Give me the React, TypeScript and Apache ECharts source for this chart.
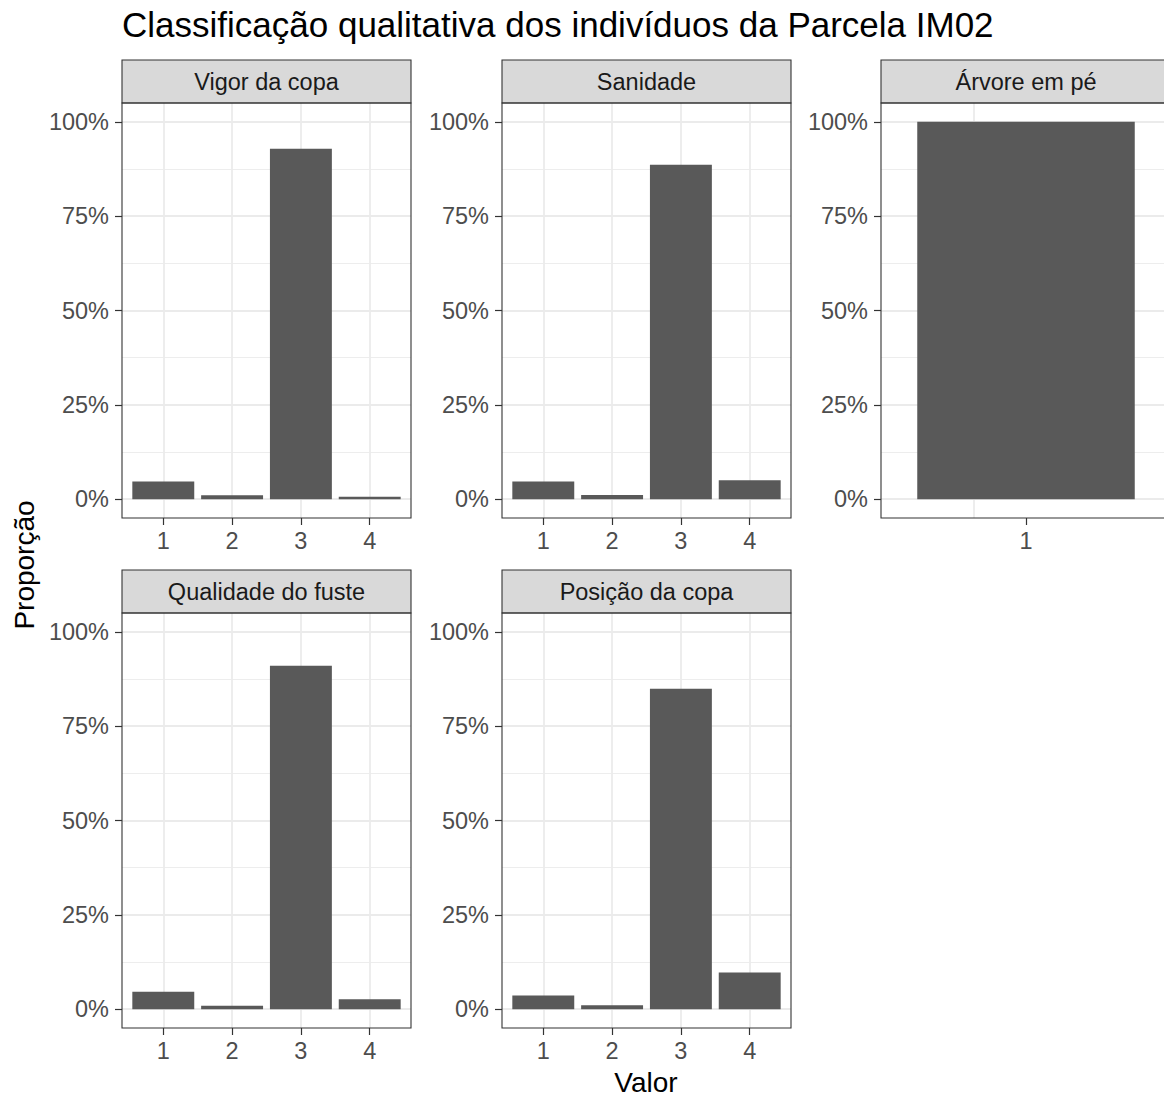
import React, { useEffect, useRef } from "react";
import * as echarts from "echarts";

// ---- Data ----
const chartTitle = "Classificação qualitativa dos indivíduos da Parcela IM02";
const xTitle = "Valor";
const yTitle = "Proporção";
const panelTitles = ["Vigor da copa", "Sanidade", "Árvore em pé", "Qualidade do fuste", "Posição da copa"];
const catsFour = ["1", "2", "3", "4"];
const catsOne = ["1"];
const panelCategories = [catsFour, catsFour, catsOne, catsFour, catsFour];
const vigorDaCopa = [4.7, 1.0, 92.9, 0.6];
const sanidade = [4.7, 1.1, 88.6, 5.0];
const arvoreEmPe = [100];
const qualidadeDoFuste = [4.6, 0.9, 91.0, 2.6];
const posicaoDaCopa = [3.6, 1.0, 84.9, 9.7];
const panelValues = [vigorDaCopa, sanidade, arvoreEmPe, qualidadeDoFuste, posicaoDaCopa];
const yMin = 0;
const yMax = 100;
const yStep = 25;
const yExpand = 5;

// ---- Layout ----
const FONT = '"Liberation Sans", Arial, sans-serif';
const panelLayout = [
  { left: 122, top: 103, width: 289 },
  { left: 502, top: 103, width: 289 },
  { left: 881, top: 103, width: 290 },
  { left: 122, top: 613, width: 289 },
  { left: 502, top: 613, width: 289 },
];
const PANEL_H = 415;
const STRIP_H = 43;
const TICK_FS = 23.5;
const GRID_COLOR = "#EBEBEB";
const DARK = "#333333";

export default function App() {
  const ref = useRef<HTMLDivElement>(null);
  useEffect(() => {
    if (!ref.current) return;
    const chart = echarts.init(ref.current, null, { renderer: "svg" });
    const grids: any[] = [];
    const xAxes: any[] = [];
    const yAxes: any[] = [];
    const series: any[] = [];
    const graphics: any[] = [];
    const span = yMax - yMin + 2 * yExpand;

    panelTitles.forEach((title, i) => {
      const { left, top, width } = panelLayout[i];
      const cats = panelCategories[i];
      const n = cats.length;
      const unit = width / (n + 0.2);

      // Grid A: bars + x ticks/labels
      const gA = grids.length;
      grids.push({ left: left + 0.1 * unit, top, width: n * unit, height: PANEL_H, show: false });
      xAxes.push({
        type: "category",
        gridIndex: gA,
        data: cats,
        position: "bottom",
        axisLine: { show: false, onZero: false },
        axisTick: { show: true, alignWithLabel: true, length: 7, lineStyle: { color: DARK, width: 1.2 } },
        axisLabel: { margin: 11, color: "#4D4D4D", fontSize: TICK_FS, fontFamily: FONT },
        splitLine: { show: false },
      });
      yAxes.push({ type: "value", gridIndex: gA, min: yMin - yExpand, max: yMax + yExpand, show: false });
      series.push({
        type: "bar",
        xAxisIndex: gA,
        yAxisIndex: gA,
        data: panelValues[i],
        barCategoryGap: "10%",
        itemStyle: { color: "#595959" },
        z: 5,
      });

      // Grid B: horizontal grid lines + y labels
      const gB = grids.length;
      const yTop = top + (PANEL_H * yExpand) / span;
      const yH = (PANEL_H * (yMax - yMin)) / span;
      grids.push({ left, top: yTop, width, height: yH, show: false });
      xAxes.push({ type: "value", gridIndex: gB, min: 0, max: 1, show: false });
      yAxes.push({
        type: "value",
        gridIndex: gB,
        min: yMin,
        max: yMax,
        interval: yStep,
        axisLine: { show: false, onZero: false },
        axisTick: { show: true, length: 7, lineStyle: { color: DARK, width: 1.2 } },
        axisLabel: {
          formatter: "{value}%",
          margin: 13,
          color: "#4D4D4D",
          fontSize: TICK_FS,
          fontFamily: FONT,
          padding: [4, 0, 0, 0],
        },
        splitLine: { show: true, lineStyle: { color: GRID_COLOR, width: 1.8 } },
        minorTick: { show: false, splitNumber: 2 },
        minorSplitLine: { show: true, lineStyle: { color: GRID_COLOR, width: 0.9 } },
      });

      // Grid C: vertical grid lines at category centres
      const gC = grids.length;
      grids.push({ left: left - 0.4 * unit, top, width: (n + 1) * unit, height: PANEL_H, show: false });
      xAxes.push({
        type: "value",
        gridIndex: gC,
        min: 0,
        max: n + 1,
        interval: 1,
        axisLine: { show: false, onZero: false },
        axisTick: { show: false },
        axisLabel: { show: false },
        splitLine: { show: true, showMinLine: false, showMaxLine: false, lineStyle: { color: GRID_COLOR, width: 1.8 } },
      });
      yAxes.push({ type: "value", gridIndex: gC, min: 0, max: 1, show: false });

      // Strip + border
      graphics.push({
        type: "rect",
        shape: { x: left, y: top - STRIP_H, width, height: STRIP_H },
        style: { fill: "#D9D9D9", stroke: DARK, lineWidth: 1.1 },
        z: 20,
      });
      graphics.push({
        type: "text",
        x: left + width / 2,
        y: top - STRIP_H / 2,
        style: { text: title, fill: "#1A1A1A", fontSize: TICK_FS, fontFamily: FONT, align: "center", verticalAlign: "middle" },
        z: 21,
      });
      graphics.push({
        type: "rect",
        shape: { x: left, y: top, width, height: PANEL_H },
        style: { fill: "none", stroke: DARK, lineWidth: 1.1 },
        z: 20,
      });
    });

    graphics.push({
      type: "text",
      x: 122,
      y: 24,
      style: { text: chartTitle, fill: "#000000", fontSize: 35, fontFamily: FONT, align: "left", verticalAlign: "middle" },
      z: 21,
    });
    graphics.push({
      type: "text",
      x: 646,
      y: 1082,
      style: { text: xTitle, fill: "#000000", fontSize: 28, fontFamily: FONT, align: "center", verticalAlign: "middle" },
      z: 21,
    });
    graphics.push({
      type: "text",
      x: 24,
      y: 565,
      rotation: Math.PI / 2,
      style: { text: yTitle, fill: "#000000", fontSize: 28, fontFamily: FONT, align: "center", verticalAlign: "middle" },
      z: 21,
    });

    chart.setOption({
      animation: false,
      backgroundColor: "#FFFFFF",
      textStyle: { fontFamily: FONT },
      grid: grids,
      xAxis: xAxes,
      yAxis: yAxes,
      series,
      graphic: graphics,
    });
    return () => chart.dispose();
  }, []);
  return <div ref={ref} style={{ position: "absolute", left: 0, top: 0, width: 1164, height: 1097 }} />;
}
